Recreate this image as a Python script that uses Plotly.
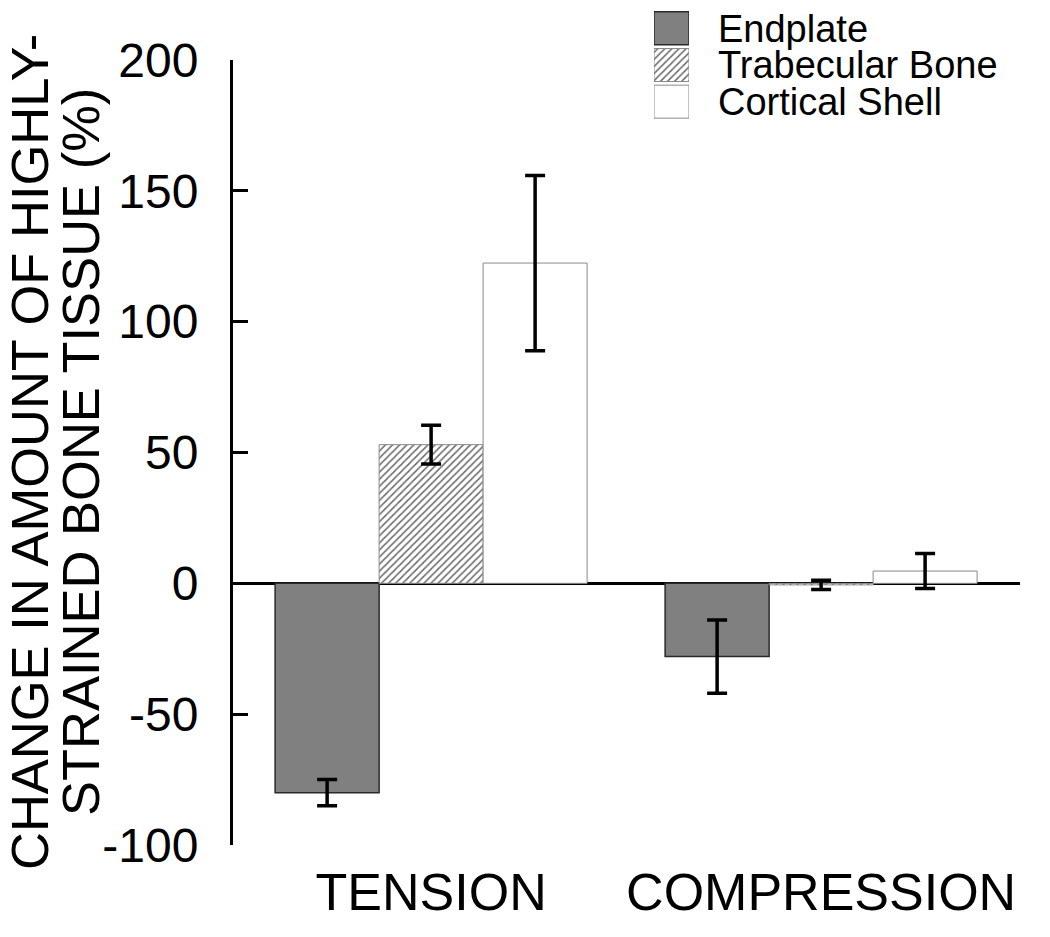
import plotly.graph_objects as go

# ---- data ----
CATEGORIES = ["TENSION", "COMPRESSION"]
SERIES = ["Endplate", "Trabecular Bone", "Cortical Shell"]
ENDPLATE = [-80, -28]
ENDPLATE_ERR = [5, 14]
TRABECULAR = [53, -0.6]
TRABECULAR_ERR = [7.4, 1.8]
CORTICAL = [122.4, 4.7]
CORTICAL_ERR = [33.5, 6.7]
Y_TICKS = [-100, -50, 0, 50, 100, 150, 200]
Y_TICK_LABELS = ["-100", "-50", "0", "50", "100", "150", "200"]
Y_TITLE_LINES = ["CHANGE IN AMOUNT OF HIGHLY-", "STRAINED BONE TISSUE (%)"]
LEGEND_SWATCH = [1, 1, 1]

FONT = "Liberation Sans, Arial, Helvetica, sans-serif"

# ---- layout geometry (pixels) ----
W, H = 1050, 937
M_L, M_R, M_T, M_B = 233, 30, 10, 92
PLOT_TOP_PX = 60
plot_h = H - M_T - M_B
plot_w = W - M_L - M_R


def py(px):
    return (H - M_B - px) / plot_h


def pxx(px):
    return (px - M_L) / plot_w


styles = [
    dict(color="#808080", line=dict(color="#2a2a2a", width=1.5)),
    dict(color="white", line=dict(color="#8a8a8a", width=1),
         pattern=dict(shape="/", fgcolor="#6a6a6a", bgcolor="white", size=5, solidity=0.3)),
    dict(color="white", line=dict(color="#8a8a8a", width=1)),
]
values = [ENDPLATE, TRABECULAR, CORTICAL]
errors = [ENDPLATE_ERR, TRABECULAR_ERR, CORTICAL_ERR]

fig = go.Figure()
for name, vals, errs, st in zip(SERIES, values, errors, styles):
    fig.add_trace(go.Bar(
        x=CATEGORIES, y=vals, name=name, marker=st,
        error_y=dict(type="data", array=errs, visible=True, color="black",
                     thickness=3.5, width=10),
        showlegend=False, xaxis="x", yaxis="y",
    ))

# custom legend swatches on a small helper subplot
for i, (name, st) in enumerate(zip(SERIES, styles)):
    fig.add_trace(go.Bar(
        x=[LEGEND_SWATCH[i]], y=[name], orientation="h", marker=st, width=0.9,
        showlegend=False, xaxis="x2", yaxis="y2", hoverinfo="skip",
    ))

annotations = []
# legend texts
row_px = [28.5, 65.2, 101.8]
for name, rp in zip(SERIES, row_px):
    annotations.append(dict(
        text=name, x=pxx(716), y=py(rp), xref="paper", yref="paper",
        xanchor="left", yanchor="middle", showarrow=False,
        font=dict(family=FONT, size=38, color="black"),
    ))
# y title (two rotated lines)
for line, cx in zip(Y_TITLE_LINES, [29, 80]):
    annotations.append(dict(
        text=line, x=pxx(cx), y=py(452), xref="paper", yref="paper",
        xanchor="center", yanchor="middle", textangle=-90, showarrow=False,
        font=dict(family=FONT, size=52.5, color="black"),
    ))

fig.update_layout(
    template="none",
    width=W, height=H,
    margin=dict(l=M_L, r=M_R, t=M_T, b=M_B, autoexpand=False),
    paper_bgcolor="white", plot_bgcolor="white",
    barmode="group", bargap=0.2, bargroupgap=0,
    font=dict(family=FONT, color="black"),
    showlegend=False,
    xaxis=dict(
        domain=[0, 1], range=[-0.508, 1.51], showline=False, ticks="",
        showgrid=False, zeroline=False, tickfont=dict(size=52),
        ticklabelstandoff=12, fixedrange=True, automargin=False,
    ),
    yaxis=dict(
        domain=[0, py(PLOT_TOP_PX)], range=[-100, 200],
        tickvals=Y_TICKS, ticktext=Y_TICK_LABELS,
        showline=True, linecolor="black", linewidth=3,
        ticks="inside", ticklen=15, tickwidth=3, tickcolor="black",
        showgrid=False, zeroline=True, zerolinecolor="black", zerolinewidth=3,
        tickfont=dict(size=48), ticklabelstandoff=22, layer="above traces",
        automargin=False, fixedrange=True,
    ),
    xaxis2=dict(
        domain=[pxx(654), pxx(689)], range=[0, 1], anchor="y2",
        visible=False, fixedrange=True, automargin=False,
    ),
    yaxis2=dict(
        domain=[py(120), 1.0], anchor="x2", visible=False,
        categoryorder="array", categoryarray=SERIES, autorange="reversed",
        fixedrange=True, automargin=False,
    ),
    annotations=annotations,
)

fig.write_html(
    "out.html",
    config={"displayModeBar": False},
    post_script="document.body.style.margin='0';document.body.style.overflow='hidden';",
)
